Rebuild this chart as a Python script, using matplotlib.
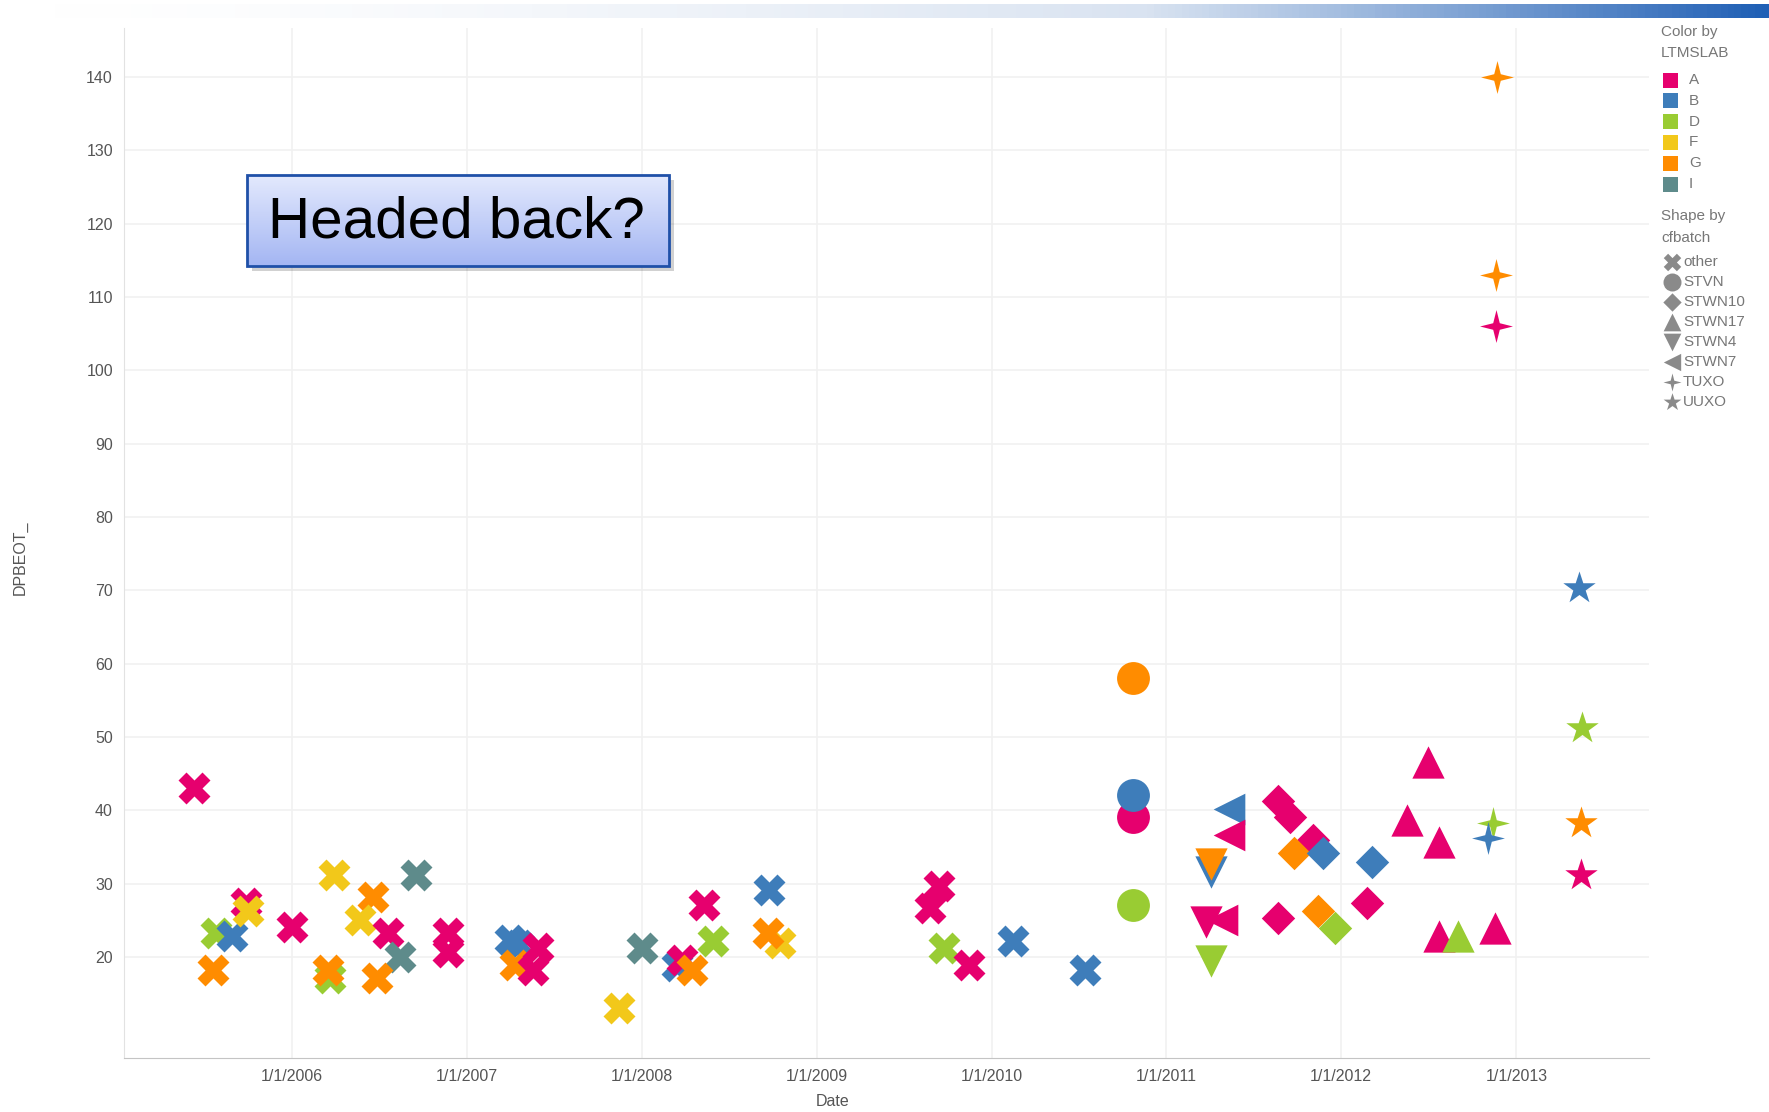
import matplotlib
matplotlib.use("Agg")
import matplotlib.pyplot as plt
import numpy as np
import pandas as pd
from matplotlib.patches import Rectangle

plt.rcParams['font.family'] = ['Liberation Sans', 'DejaVu Sans']

# data: date, DPBEOT_, LTMSLAB, cfbatch
dates = ["2005-06-10", "2005-07-27", "2005-08-29", "2005-07-20", "2005-09-27", "2005-10-01",
         "2006-01-01", "2006-03-29", "2006-03-22", "2006-03-18", "2006-06-18", "2006-05-23",
         "2006-07-20", "2006-09-16", "2006-08-14", "2006-06-28", "2006-11-22", "2006-11-22",
         "2007-04-01", "2007-04-20", "2007-04-12", "2007-05-30", "2007-05-19",
         "2007-11-14", "2008-01-01", "2008-05-11", "2008-05-30", "2008-03-14", "2008-03-25",
         "2008-04-16", "2008-09-24", "2008-10-16", "2008-09-20",
         "2009-09-13", "2009-08-25", "2009-09-24", "2009-11-14", "2010-02-14", "2010-07-16",
         "2010-10-23", "2010-10-23", "2010-10-23", "2010-10-23",
         "2011-05-12", "2011-05-12", "2011-04-05", "2011-04-05", "2011-03-25", "2011-04-27",
         "2011-04-05",
         "2011-08-22", "2011-09-16", "2011-11-03", "2011-09-24", "2011-11-25", "2012-03-06",
         "2011-08-22", "2011-11-14", "2011-12-20", "2012-02-24",
         "2012-07-01", "2012-05-18", "2012-07-23", "2012-07-23", "2012-09-02", "2012-11-17",
         "2012-11-13", "2012-11-02", "2012-11-21", "2012-11-19", "2012-11-20",
         "2013-05-18", "2013-05-15", "2013-05-15", "2013-05-11"]
values = [43.0, 23.2, 22.8, 18.2, 27.3, 26.2,
          24.1, 31.2, 17.1, 18.2, 28.2, 25.0,
          23.2, 31.2, 20.0, 17.1, 23.2, 20.7,
          22.3, 21.6, 18.9, 21.2, 18.2,
          13.0, 21.2, 27.1, 22.1, 18.7, 19.6,
          18.2, 29.1, 21.9, 23.2,
          29.6, 26.6, 21.2, 18.9, 22.1, 18.2,
          58.0, 39.1, 42.1, 27.1,
          40.1, 36.6, 31.6, 32.6, 24.8, 25.0,
          19.4,
          41.2, 39.1, 36.0, 34.1, 34.1, 33.0,
          25.3, 26.2, 23.9, 27.3,
          46.6, 38.7, 35.7, 22.8, 22.8, 23.9,
          38.2, 36.2, 140.0, 113.0, 106.0,
          51.2, 38.2, 31.2, 70.3]
labs = ["A", "D", "B", "G", "A", "F",
        "A", "F", "D", "G", "G", "F",
        "A", "I", "I", "G", "A", "A",
        "B", "B", "G", "A", "A",
        "F", "I", "A", "D", "B", "A",
        "G", "B", "F", "G",
        "A", "A", "D", "A", "B", "B",
        "G", "A", "B", "D",
        "B", "A", "B", "G", "A", "A",
        "D",
        "A", "A", "A", "G", "B", "B",
        "A", "G", "D", "A",
        "A", "A", "A", "A", "D", "A",
        "D", "B", "G", "G", "A",
        "D", "G", "A", "B"]
batches = ["other"] * 39 + ["STVN"] * 4 + ["STWN7", "STWN7", "STWN4", "STWN4", "STWN4", "STWN7",
           "STWN4"] + ["STWN10"] * 10 + ["STWN17"] * 6 + ["TUXO"] * 5 + ["UUXO"] * 4

color_cats = ["A", "B", "D", "F", "G", "I"]
color_hex = ["#E6006E", "#3E7DBA", "#99CC33", "#F2C81A", "#FF8C00", "#5E8B8B"]
shape_cats = ["other", "STVN", "STWN10", "STWN17", "STWN4", "STWN7", "TUXO", "UUXO"]

year_ticks = ["2006-01-01", "2007-01-01", "2008-01-01", "2009-01-01",
              "2010-01-01", "2011-01-01", "2012-01-01", "2013-01-01"]
year_labels = ["1/1/2006", "1/1/2007", "1/1/2008", "1/1/2009",
               "1/1/2010", "1/1/2011", "1/1/2012", "1/1/2013"]
y_ticks = [20, 30, 40, 50, 60, 70, 80, 90, 100, 110, 120, 130, 140]

tuxo = [(0, 1), (0.2, 0.2), (1, 0), (0.2, -0.2), (0, -1), (-0.2, -0.2), (-1, 0), (-0.2, 0.2)]
markers = {"other": "X", "STVN": "o", "STWN10": "D", "STWN17": "^", "STWN4": "v",
           "STWN7": "<", "TUXO": tuxo, "UUXO": "*"}
sizes = {"other": 530, "STVN": 560, "STWN10": 290, "STWN17": 540, "STWN4": 540,
         "STWN7": 520, "TUXO": 560, "UUXO": 600}
cmap = dict(zip(color_cats, color_hex))

fig = plt.figure(figsize=(17.69, 11.12), dpi=100)
ax = fig.add_axes([124 / 1769, 54 / 1112, 1525 / 1769, 1030 / 1112])

dts = pd.to_datetime(dates)
for d, v, c, b in zip(dts, values, labs, batches):
    ax.scatter(d, v, marker=markers[b], s=sizes[b], c=cmap[c], linewidths=0, zorder=3)

ax.set_xlim(pd.Timestamp("2005-01-15"), pd.Timestamp("2013-10-05"))
ax.set_ylim(6.2, 146.7)
ax.set_xticks(pd.to_datetime(year_ticks))
ax.set_xticklabels(year_labels)
ax.set_yticks(y_ticks)
ax.tick_params(length=0, labelsize=11.5, labelcolor="#555555", pad=8)
ax.grid(True, color="#f1f1f1", linewidth=1.2)
ax.set_axisbelow(True)
for s in ["top", "right"]:
    ax.spines[s].set_visible(False)
ax.spines["left"].set_color("#e2e2e2")
ax.spines["bottom"].set_color("#c4c4c4")

fig.text(20 / 1769, 1 - 558 / 1112, "DPBEOT_", rotation=90, ha="center", va="center",
         fontsize=11.5, color="#555555")
fig.text(833 / 1769, 1 - 1102 / 1112, "Date", ha="center", va="center",
         fontsize=11.5, color="#555555")

# overlay in pixel coordinates for decoration and legend
ov = fig.add_axes([0, 0, 1, 1])
ov.set_xlim(0, 1769)
ov.set_ylim(1112, 0)
ov.axis("off")
ov.patch.set_alpha(0)

# top gradient band
band = np.linspace(0, 1, 256)[None, :] ** 1.6
cm_band = matplotlib.colors.LinearSegmentedColormap.from_list("b", ["#ffffff", "#d9e3f1", "#1f5fb5"])
ov.imshow(band, cmap=cm_band, extent=(0, 1769, 18, 4), aspect="auto", zorder=1)

# callout box
ov.add_patch(Rectangle((252, 180), 422, 91, facecolor="#000000", alpha=0.18, linewidth=0, zorder=4))
grad = np.linspace(0, 1, 100)[:, None]
cm_box = matplotlib.colors.LinearSegmentedColormap.from_list("g", ["#e3e9fd", "#a4b6f3"])
ov.imshow(grad, cmap=cm_box, extent=(247, 669, 266, 175), aspect="auto", zorder=5)
ov.add_patch(Rectangle((247, 175), 422, 91, facecolor="none", edgecolor="#1f50a8", linewidth=2, zorder=6))
ov.text(268, 222, "Headed back?", fontsize=42, color="black", va="center", ha="left", zorder=7)

# legend
lc = "#777777"
ov.text(1661, 32, "Color by", fontsize=11, color=lc, va="center")
ov.text(1661, 53, "LTMSLAB", fontsize=11, color=lc, va="center")
for i, (name, col) in enumerate(zip(color_cats, color_hex)):
    y = 80 + i * 20.8
    ov.add_patch(Rectangle((1663, y - 7.5), 15, 15, facecolor=col, linewidth=0))
    ov.text(1689, y, name, fontsize=11, color=lc, va="center")
ov.text(1661, 216, "Shape by", fontsize=11, color=lc, va="center")
ov.text(1661, 238, "cfbatch", fontsize=11, color=lc, va="center")
for i, name in enumerate(shape_cats):
    y = 262 + i * 20
    ov.scatter(1672, y, marker=markers[name], s=sizes[name] * 0.3, c="#8a8a8a", linewidths=0)
    ov.text(1683, y, name, fontsize=11, color=lc, va="center")

fig.savefig("out.png", dpi=100)
